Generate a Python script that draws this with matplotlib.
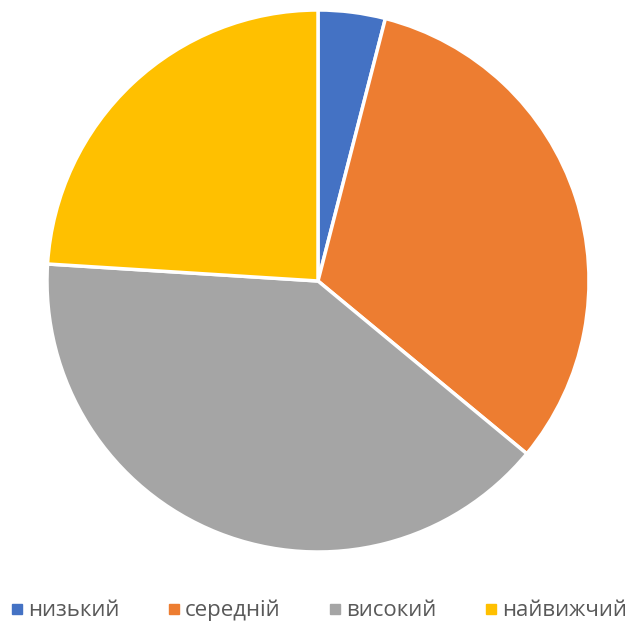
import matplotlib.pyplot as plt
from matplotlib.lines import Line2D

labels = ['низький', 'середній', 'високий', 'найвижчий']
values = [4, 32, 40, 24]
colors = ['#4472C4', '#ED7D31', '#A5A5A5', '#FFC000']

plt.rcParams['font.family'] = ['Open Sans', 'DejaVu Sans']

fig = plt.figure(figsize=(6.28, 6.27), dpi=100)
ax = fig.add_axes([47 / 628, 75 / 627, 542 / 628, 542 / 627])
ax.pie(values, colors=colors, startangle=90, counterclock=False,
       wedgeprops=dict(edgecolor='white', linewidth=2.5))
ax.set_xlim(-1, 1)
ax.set_ylim(-1, 1)
ax.set_aspect('equal')

handles = [Line2D([], [], marker='s', linestyle='none', markersize=6.5,
                  markerfacecolor=c, markeredgecolor=c) for c in colors]
fig.legend(handles, labels, loc='center', bbox_to_anchor=(0.508, 0.026),
           ncol=4, frameon=False, fontsize=16, labelcolor='#595959',
           handletextpad=0.25, columnspacing=2.2, handlelength=0.5)

fig.savefig('out.png', dpi=100)
